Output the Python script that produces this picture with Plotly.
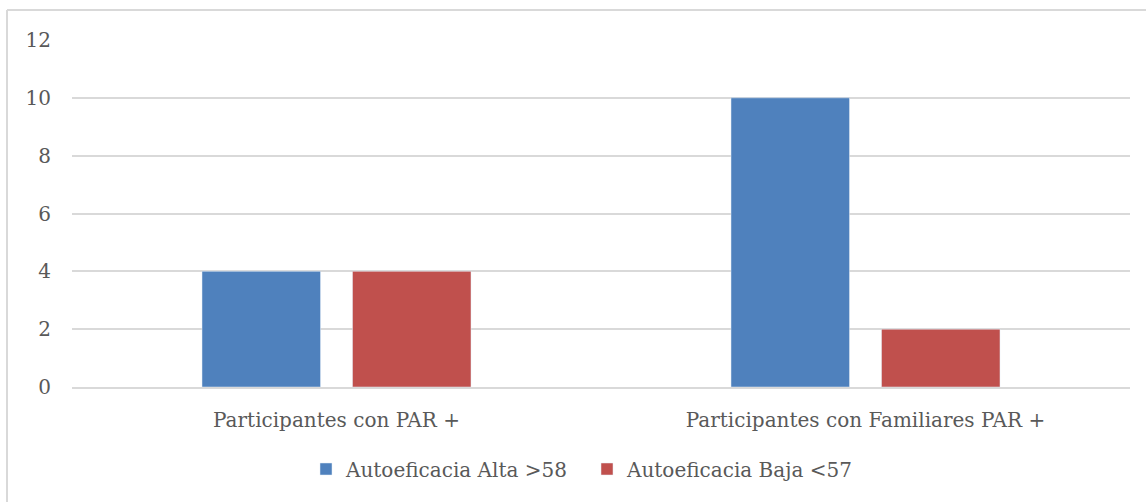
import plotly.graph_objects as go

categories = ["Participantes con PAR +", "Participantes con Familiares PAR +"]
alta = [4, 10]
baja = [4, 2]
series_names = ["Autoeficacia Alta >58", "Autoeficacia Baja <57"]
y_ticks = [0, 2, 4, 6, 8, 10, 12]

BLUE = "#4F81BD"
RED = "#C0504D"
TEXT = "#595959"
GRID = "#D9D9D9"
FONT = "DejaVu Serif, Liberation Serif, serif"

W, H = 1146, 502
L, R, T, B = 72, 16, 40, 115
pw, ph = W - L - R, H - T - B

fig = go.Figure()
fig.add_trace(go.Bar(x=categories, y=alta, name=series_names[0], marker_color=BLUE))
fig.add_trace(go.Bar(x=categories, y=baja, name=series_names[1], marker_color=RED))

# chart border (left + top edges visible in the reference)
bx = (7 - L) / pw
by = 1 + (T - 10) / ph
fig.add_shape(type="line", xref="paper", yref="paper", x0=bx, x1=2, y0=by, y1=by,
              line=dict(color=GRID, width=2))
fig.add_shape(type="line", xref="paper", yref="paper", x0=bx, x1=bx, y0=by, y1=-2,
              line=dict(color=GRID, width=2))

fig.update_layout(
    width=W, height=H,
    margin=dict(l=L, r=R, t=T, b=B),
    paper_bgcolor="white", plot_bgcolor="white",
    font=dict(family=FONT, color=TEXT, size=20),
    barmode="group", bargap=0.431, bargroupgap=0.2126,
    showlegend=True,
    legend=dict(orientation="h", x=(306 - L) / pw, xanchor="left",
                y=-(469 - T - ph) / ph, yanchor="middle",
                font=dict(size=20, color=TEXT), itemwidth=30,
                entrywidth=236, entrywidthmode="pixels"),
)
fig.update_yaxes(range=[0, 12], tickvals=y_ticks, showgrid=True, gridcolor=GRID,
                 gridwidth=1.5, zeroline=False, showline=False, ticks="",
                 ticklabelstandoff=20, tickfont=dict(size=20, color=TEXT))
fig.update_xaxes(showline=True, linecolor=GRID, linewidth=1.5, ticks="",
                 ticklabelstandoff=14, tickfont=dict(size=20, color=TEXT))

# drop the browser's default body margin so the figure sits at the page origin
fig.write_html("out.html", config={"displayModeBar": False},
               post_script="document.body.style.margin='0';")
